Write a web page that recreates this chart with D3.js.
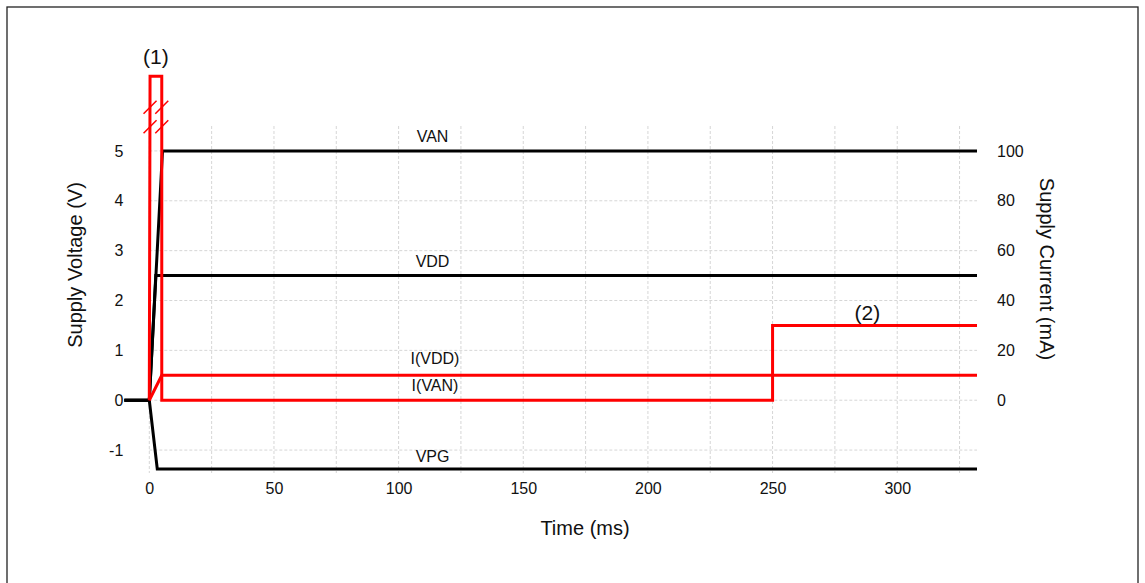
<!DOCTYPE html>
<html><head><meta charset="utf-8">
<script src="https://cdn.jsdelivr.net/npm/d3@7"></script>
<style>
html,body{margin:0;padding:0;background:#fff;}
svg{display:block;font-family:"Liberation Sans",Arial,sans-serif;}
</style></head>
<body><svg id="c" width="1145" height="583"></svg>
<script>
// ---- data ----
const timeTicks = [0, 50, 100, 150, 200, 250, 300];
const timeGrid = [0, 25, 50, 75, 100, 125, 150, 175, 200, 225, 250, 275, 300, 325];
const voltTicks = [-1, 0, 1, 2, 3, 4, 5];
const currTicks = [0, 20, 40, 60, 80, 100];

const vanT = [-10, 0, 5.3, 332];   const vanV = [0, 0, 5, 5];
const vddT = [-10, 0, 2.6, 332];   const vddV = [0, 0, 2.5, 2.5];
const vpgT = [-10, 0, 3.2, 332];   const vpgV = [0, 0, -1.38, -1.38];
const ivanT = [0, 0.3, 5, 5, 250, 250, 332];  const ivanI = [0, 130, 130, 0, 0, 30, 30];
const ivddT = [0, 5, 332];         const ivddI = [0, 10, 10];
const breakAt = [117.5, 109.7];   // mA, axis-break marks on the spike

const labels = [
  {text: "VAN", t: 112, v: 5, dy: -9},
  {text: "VDD", t: 112, v: 2.5, dy: -9},
  {text: "I(VDD)", t: 113, i: 10, dy: -11},
  {text: "I(VAN)", t: 113, i: 0, dy: -9},
  {text: "VPG", t: 112, v: -1.38, dy: -7}
];

// ---- scales ----
const svg = d3.select("#c");
const x = d3.scaleLinear().domain([0, 332]).range([149.3, 977]);
const y = d3.scaleLinear().domain([-1.46, 5.5]).range([473, 126]);
const yI = d3.scaleLinear().domain([-29.2, 110]).range([473, 126]);

// frame
svg.append("rect").attr("x", 7).attr("y", 7).attr("width", 1131).attr("height", 620)
  .attr("fill", "none").attr("stroke", "#222").attr("stroke-width", 1.3);

// grid
const g = svg.append("g");
g.selectAll(".vg").data(timeGrid).join("line")
  .attr("x1", d => x(d)).attr("x2", d => x(d)).attr("y1", 126).attr("y2", 473)
  .attr("stroke", "#d6d6d6").attr("stroke-dasharray", "3,2").attr("stroke-width", 1);
g.selectAll(".hg").data(voltTicks).join("line")
  .attr("x1", x(0)).attr("x2", x(332)).attr("y1", d => y(d)).attr("y2", d => y(d))
  .attr("stroke", "#d6d6d6").attr("stroke-dasharray", "3,2").attr("stroke-width", 1);

// axes
const fmt = d => String(d);
const axL = svg.append("g").attr("transform", `translate(${x(0) - 26},0)`)
  .call(d3.axisLeft(y).tickValues(voltTicks).tickFormat(fmt).tickSize(0).tickPadding(0));
const axR = svg.append("g").attr("transform", `translate(${x(332) + 20},0)`)
  .call(d3.axisRight(yI).tickValues(currTicks).tickFormat(fmt).tickSize(0).tickPadding(0));
const axB = svg.append("g").attr("transform", `translate(0,473)`)
  .call(d3.axisBottom(x).tickValues(timeTicks).tickFormat(fmt).tickSize(0).tickPadding(10));
[axL, axR, axB].forEach(a => {
  a.select(".domain").remove();
  a.selectAll("text").attr("font-size", 16).attr("fill", "#111")
    .attr("font-family", '"Liberation Sans",Arial,sans-serif');
});

// titles
svg.append("text").attr("x", 585).attr("y", 535).attr("text-anchor", "middle")
  .attr("font-size", 20).attr("fill", "#111").text("Time (ms)");
svg.append("text").attr("transform", "translate(75,265) rotate(-90)")
  .attr("text-anchor", "middle").attr("dominant-baseline", "central")
  .attr("font-size", 20).attr("fill", "#111").text("Supply Voltage (V)");
svg.append("text").attr("transform", "translate(1047,269) rotate(90)")
  .attr("text-anchor", "middle").attr("dominant-baseline", "central")
  .attr("font-size", 20).attr("fill", "#111").text("Supply Current (mA)");

// traces
const lineV = d3.line().x(d => x(d[0])).y(d => y(d[1]));
const lineI = d3.line().x(d => x(d[0])).y(d => yI(d[1]));
const zip = (a, b) => a.map((v, i) => [v, b[i]]);

[[vanT, vanV], [vddT, vddV], [vpgT, vpgV]].forEach(([t, v]) => {
  svg.append("path").attr("d", lineV(zip(t, v))).attr("fill", "none")
    .attr("stroke", "#000").attr("stroke-width", 3).attr("stroke-linejoin", "miter");
});
[[ivddT, ivddI], [ivanT, ivanI]].forEach(([t, v]) => {
  svg.append("path").attr("d", lineI(zip(t, v))).attr("fill", "none")
    .attr("stroke", "#ff0000").attr("stroke-width", 3).attr("stroke-linejoin", "miter");
});

// axis break marks on the spike
const bx0 = x(ivanT[1]), bx1 = x(ivanT[2]);
breakAt.forEach(iv => {
  const yy = yI(iv);
  [bx0, bx1].forEach(bx => {
    svg.append("line").attr("x1", bx - 6.5).attr("y1", yy + 6.5).attr("x2", bx + 6.5).attr("y2", yy - 6.5)
      .attr("stroke", "#ff0000").attr("stroke-width", 1.5);
  });
});

// line labels
svg.selectAll(".lbl").data(labels).join("text")
  .attr("x", d => x(d.t) + 4)
  .attr("y", d => (d.v !== undefined ? y(d.v) : yI(d.i)) + d.dy)
  .attr("text-anchor", "middle").attr("font-size", 16).attr("fill", "#111")
  .text(d => d.text);

// annotations
svg.append("text").attr("x", (bx0 + bx1) / 2).attr("y", 64).attr("text-anchor", "middle")
  .attr("font-size", 21).attr("fill", "#111").text("(1)");
svg.append("text").attr("x", x(288)).attr("y", yI(30) - 5).attr("text-anchor", "middle")
  .attr("font-size", 21).attr("fill", "#111").text("(2)");
</script></body></html>
